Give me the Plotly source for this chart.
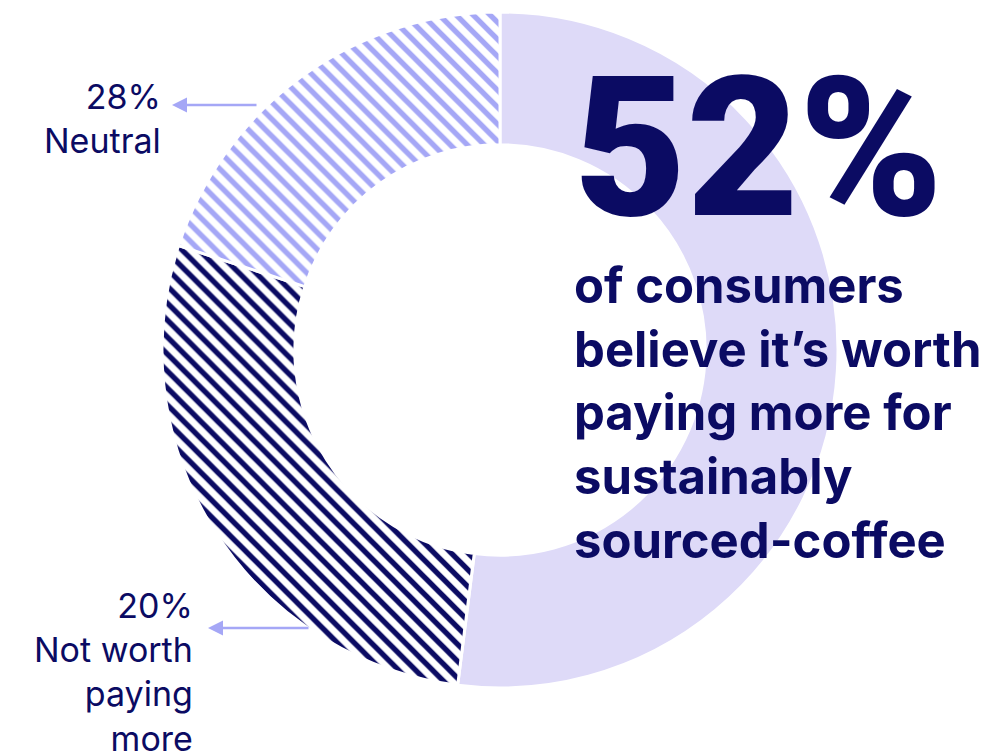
import plotly.graph_objects as go

# Survey shares, in drawing order (clockwise from 12 o'clock)
categories = ["Worth paying more", "Neutral", "Not worth paying more"]
shares = [52, 28, 20]

headline_value = shares[0]
headline_text = ["of consumers", "believe it\u2019s worth", "paying more for",
                 "sustainably", "sourced-coffee"]

NAVY = "#0b0b63"
LAVENDER = "#dedaf8"
PERIWINKLE = "#a5a7f6"
WHITE = "#ffffff"

W, H = 1004, 754


def px(x):
    return x / W


def py(y):
    return 1 - y / H


# donut geometry (pixels)
cx, cy, r_out = 500, 350, 338

fig = go.Figure()
fig.add_trace(go.Pie(
    labels=categories,
    values=shares,
    sort=False,
    direction="clockwise",
    rotation=0,
    hole=0.607,
    textinfo="none",
    hoverinfo="label+percent",
    showlegend=False,
    marker=dict(
        colors=[LAVENDER, WHITE, WHITE],
        line=dict(color=WHITE, width=3),
        pattern=dict(
            shape=["", "\\", "\\"],
            fgcolor=[LAVENDER, NAVY, PERIWINKLE],
            bgcolor=[LAVENDER, WHITE, WHITE],
            fgopacity=1,
            fillmode="overlay",
            size=12,
            solidity=0.45,
        ),
    ),
    domain=dict(x=[px(cx - r_out), px(cx + r_out)],
                y=[py(cy + r_out), py(cy - r_out)]),
))

# big headline number
fig.add_annotation(
    x=px(572), y=py(148), xref="paper", yref="paper",
    xanchor="left", yanchor="middle",
    text=f"{headline_value}%", showarrow=False,
    font=dict(family="Roboto", size=194, color=NAVY, weight=900),
)

# headline statement
fig.add_annotation(
    x=px(572), y=py(254), xref="paper", yref="paper",
    xanchor="left", yanchor="top", align="left",
    text="<br>".join(headline_text), showarrow=False,
    font=dict(family="Inter", size=49, color=NAVY, weight=700),
)

# side labels
label_font = dict(family="Inter", size=34, color=NAVY, weight=400)
fig.add_annotation(
    x=px(163), y=py(74), xref="paper", yref="paper",
    xanchor="right", yanchor="top", align="right",
    text=f"{shares[1]}%<br>{categories[1]}", showarrow=False,
    font=label_font,
)
fig.add_annotation(
    x=px(195), y=py(583), xref="paper", yref="paper",
    xanchor="right", yanchor="top", align="right",
    text=f"{shares[2]}%<br>Not worth<br>paying<br>more", showarrow=False,
    font=label_font,
)

# leader arrows
for tip_x, tip_y, tail_x in [(172, 105, 258), (208, 628, 310)]:
    fig.add_annotation(
        x=px(tip_x), y=py(tip_y), xref="paper", yref="paper",
        ax=tail_x - tip_x, ay=0, axref="pixel", ayref="pixel",
        text="", showarrow=True,
        arrowhead=2, arrowsize=1.2, arrowwidth=2.5, arrowcolor=PERIWINKLE,
    )

fig.update_layout(
    width=W, height=H,
    margin=dict(l=0, r=0, t=0, b=0),
    paper_bgcolor=WHITE, plot_bgcolor=WHITE,
)

fig.write_html("out.html")
